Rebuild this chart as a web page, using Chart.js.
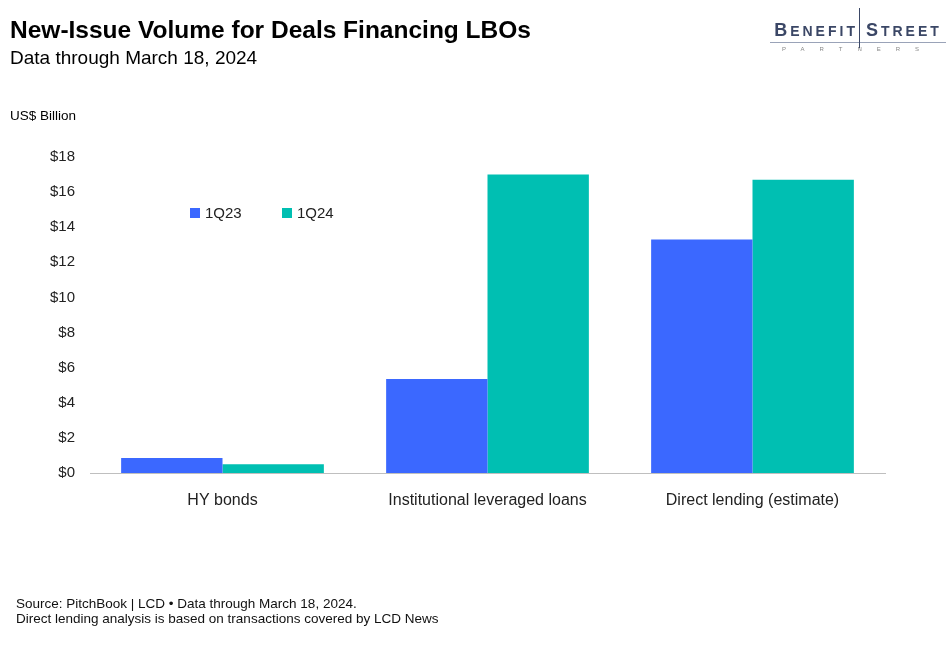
<!DOCTYPE html>
<html>
<head>
<meta charset="utf-8">
<script src="https://cdn.jsdelivr.net/npm/chart.js@4"></script>
<style>
    body { margin: 0; background: #fff; font-family: "Liberation Sans", Arial, sans-serif; }
    #wrap { position: relative; width: 950px; height: 651px; overflow: hidden; }
    #chart { position: absolute; left: 0; top: 0; }
    .title { position: absolute; left: 10px; top: 16px; font-size: 24.5px; font-weight: bold; color: #000; }
    .subtitle { position: absolute; left: 10px; top: 47px; font-size: 19px; color: #000; }
    .unit { position: absolute; left: 10px; top: 108px; font-size: 13.5px; color: #000; }
    .source { position: absolute; left: 16px; top: 596px; font-size: 13.5px; line-height: 15px; color: #111; }
    .logo { position: absolute; left: 770px; top: 20px; width: 176px; text-align: center; color: #3b4766; }
    .logo .name { font-size: 18px; font-weight: bold; letter-spacing: 3px; line-height: 20px; }
    .logo .name small { font-size: 14px; }
    .logo .rule { height: 1px; background: #9aa3b8; margin: 1px 0 3px; }
    .logo .sub { font-size: 6px; letter-spacing: 15px; color: #888; }
    .logo .pole { position: absolute; left: 89px; top: -12px; width: 1px; height: 40px; background: #3b4766; }
</style>
</head>
<body>
<div id="wrap">
    <canvas id="chart" width="950" height="651"></canvas>
    <div class="title">New-Issue Volume for Deals Financing LBOs</div>
    <div class="subtitle">Data through March 18, 2024</div>
    <div class="unit">US$ Billion</div>
    <div class="logo">
        <div class="pole"></div>
        <div class="name">B<small>ENEFIT</small>&nbsp;S<small>TREET</small></div>
        <div class="rule"></div>
        <div class="sub">PARTNERS</div>
    </div>
    <div class="source">Source: PitchBook | LCD • Data through March 18, 2024.<br>Direct lending analysis is based on transactions covered by LCD News</div>
</div>
<script>
// Chart data
const categories = ['HY bonds', 'Institutional leveraged loans', 'Direct lending (estimate)'];
const series_1q23 = [0.85, 5.35, 13.3];
const series_1q24 = [0.5, 17.0, 16.7];
const yTicks = [0, 2, 4, 6, 8, 10, 12, 14, 16, 18];

// Legend drawn inside the plot area
const inlineLegend = {
    id: 'inlineLegend',
    afterDraw(chart) {
        const ctx = chart.ctx;
        const spots = [{ x: 190, y: 213 }, { x: 282, y: 213 }];
        ctx.save();
        ctx.font = '15px "Liberation Sans", Arial, sans-serif';
        ctx.textBaseline = 'middle';
        chart.data.datasets.forEach((ds, i) => {
            const p = spots[i];
            ctx.fillStyle = ds.backgroundColor;
            ctx.fillRect(p.x, p.y - 5, 10, 10);
            ctx.fillStyle = '#222';
            ctx.fillText(ds.label, p.x + 15, p.y + 1);
        });
        ctx.restore();
    }
};

new Chart(document.getElementById('chart'), {
    type: 'bar',
    data: {
        labels: categories,
        datasets: [{
            label: '1Q23',
            data: series_1q23,
            backgroundColor: '#3b68ff',
            barPercentage: 1,
            categoryPercentage: 0.765
        }, {
            label: '1Q24',
            data: series_1q24,
            backgroundColor: '#00bfb2',
            barPercentage: 1,
            categoryPercentage: 0.765
        }]
    },
    options: {
        responsive: false,
        animation: false,
        layout: {
            padding: { left: 0, right: 65, top: 157, bottom: 138 }
        },
        scales: {
            x: {
                grid: { display: false },
                border: { display: true, color: '#bfbfbf', width: 1 },
                ticks: {
                    color: '#222',
                    padding: 10,
                    font: { family: '"Liberation Sans", Arial, sans-serif', size: 16 }
                },
                afterFit(scale) { scale.height = 40; }
            },
            y: {
                min: 0,
                max: 18,
                grid: { display: false },
                border: { display: false },
                afterBuildTicks(scale) {
                    scale.ticks = yTicks.map(v => ({ value: v }));
                },
                ticks: {
                    color: '#222',
                    padding: 7,
                    font: { family: '"Liberation Sans", Arial, sans-serif', size: 15 },
                    callback: value => '$' + value
                },
                afterFit(scale) { scale.width = 90; }
            }
        },
        plugins: {
            legend: { display: false },
            tooltip: { enabled: false }
        }
    },
    plugins: [inlineLegend]
});
</script>
</body>
</html>
